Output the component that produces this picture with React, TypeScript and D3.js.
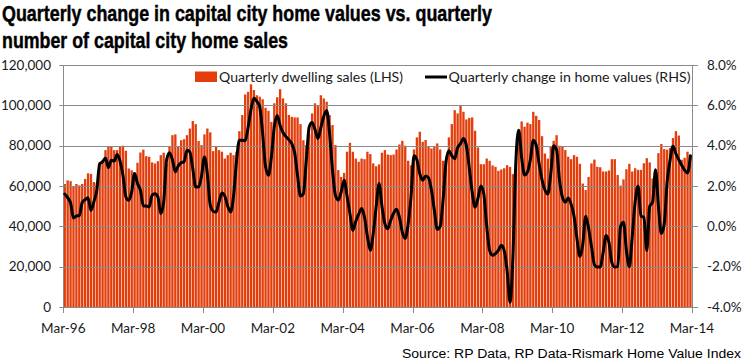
import React from "react";
import * as d3 from "d3";

// ---------- DATA ----------
// Monthly periods, Mar-96 .. Feb-14 (216 months)
const months: Date[] = d3.timeMonth.range(new Date(1996, 2, 1), new Date(2014, 2, 1));

// Quarterly dwelling sales (thousands), LHS
const dwellingSales: number[] = [
  61, 62.8, 62.4, 60, 61, 60.3, 61, 63.5, 66.3, 66, 62, 61.5,
  71, 72.8, 77.8, 79.4, 79.8, 77.8, 77.8, 79.4, 80, 77.5, 68.7, 67.8,
  66.8, 71.5, 76.6, 78, 74.8, 74.5, 71.7, 71.2, 72.3, 75.3, 76.5, 71,
  79.4, 85.2, 85.6, 79.4, 82.7, 83.2, 85.2, 88.5, 92.2, 90.7, 82.3, 80.3,
  85.6, 88.5, 86.6, 77.3, 79.4, 77.8, 77, 73.6, 75.3, 76.5, 75.3, 77,
  87.2, 95.2, 105.4, 106.7, 110.4, 107.6, 105, 104.3, 103, 98.8, 97.3, 91.8,
  101, 104, 108, 103.4, 101, 95.2, 94.3, 94, 94, 90.7, 82.7, 80.3,
  85.7, 96, 101, 100, 105, 103.4, 101.8, 95.2, 90.2, 80.3, 67.9, 64.5,
  66.5, 77, 81.4, 77, 73.6, 72, 73.6, 73.3, 77, 75.8, 71.2, 69.8,
  70.7, 76.5, 77.8, 75.6, 75.3, 75.6, 78.1, 80.6, 82.4, 80, 72.5, 70.3,
  78.1, 84.1, 86.9, 81.9, 82.8, 79.8, 78.6, 79.4, 81.1, 78.1, 72.5, 73.1,
  84.1, 90.7, 97.6, 96, 100.1, 96.8, 93, 93.8, 94, 87.4, 79.1, 70.8,
  70.8, 73.6, 72.5, 70.2, 69.5, 67.5, 68.2, 68.8, 70.3, 69.5, 65.9, 68.7,
  86.9, 92, 89.4, 91.4, 90.7, 96.8, 94.8, 92.7, 84.7, 76.1, 73.6, 79.4,
  82.4, 85.2, 80, 79.5, 77.8, 74.5, 73.3, 75.3, 74.5, 71, 61.2, 58,
  64.5, 71.2, 73.1, 69.5, 69.3, 67.2, 67.2, 67.7, 73.3, 73.3, 65.5, 60.2,
  63.3, 68.3, 71, 67.2, 68.8, 68, 68, 71.3, 73.8, 71.7, 63.8, 62.2,
  76.3, 80.8, 78.3, 78, 78.8, 83.8, 87.2, 85, 73, 74, 77, 75,
];

// Quarterly change in home values (%), RHS
const valueChange: number[] = [
  1.6, 1.42, 1.16, 0.41, 0.51, 0.53, 1.18, 1.32, 1.42, 0.79, 1.21, 1.79,
  3.11, 3.2, 3.39, 2.91, 3.28, 3.23, 3.56, 3.23, 2.53, 1.46, 1.29, 1.71,
  2.62, 2.12, 1.79, 1.01, 1.01, 0.96, 1.54, 1.62, 1.46, 0.63, 1.21, 3.3,
  3.65, 3.3, 2.7, 3.0, 3.15, 3.2, 3.77, 3.69, 2.85, 1.95, 1.95, 2.5,
  3.44, 2.6, 1.05, 0.75, 0.71, 1.2, 1.65, 1.5, 1.0, 0.71, 1.5, 3.2,
  4.27, 4.27, 4.25, 4.9, 5.8, 6.35, 6.2, 5.93, 4.6, 2.95, 2.53, 3.44,
  4.93, 5.5, 5.0, 4.65, 4.45, 4.3, 4.1, 3.65, 2.5, 1.5, 1.62, 3.28,
  4.93, 5.15, 4.8, 4.35, 4.9, 5.45, 5.75, 4.6, 2.8, 1.55, 1.3, 1.71,
  2.28, 1.5, 0.63, -0.2, 0.25, 0.6, 0.88, 0.45, -0.5, -1.19, -0.36, 0.96,
  2.12, 1.0, 0.13, -0.12, 0.3, 0.65, 0.85, 0.45, -0.3, -0.6, 0.13, 1.5,
  3.5, 3.3, 2.6, 2.28, 2.5, 2.4, 1.8, 0.8, -0.15, 0.0, 1.29, 3.2,
  3.75, 3.5, 3.35, 3.9, 4.1, 4.35, 4.0, 2.9, 1.7, 0.95, 1.4, 2.0,
  1.6, 0.0, -1.2, -1.44, -1.35, -1.19, -0.94, -1.2, -2.19, -3.76, -1.5, 3.2,
  4.77, 3.4, 2.55, 2.7, 3.3, 4.27, 4.02, 3.1, 2.3, 1.8, 1.6, 2.6,
  4.0, 3.8, 2.3, 1.45, 1.2, 1.4, 1.1, 0.5, -0.6, -1.5, -0.9, 0.5,
  -0.1, -1.0, -1.9, -2.02, -2.02, -1.3, -0.45, -0.8, -1.8, -2.02, -2.0, 0.0,
  0.2, -1.2, -2.0, -0.5, 1.2, 2.0, 0.5, 0.46, -1.2, 1.0, 1.2, 2.8,
  1.0, -0.36, 0.13, 2.2, 3.28, 3.97, 3.6, 3.3, 3.03, 2.78, 2.65, 3.5,
];

const xTickLabels = ["Mar-96", "Mar-98", "Mar-00", "Mar-02", "Mar-04", "Mar-06", "Mar-08", "Mar-10", "Mar-12", "Mar-14"];
const leftTicks = [0, 20, 40, 60, 80, 100, 120];
const rightTicks = [-4, -2, 0, 2, 4, 6, 8];

const titleLines = [
  "Quarterly change in capital city home values vs. quarterly",
  "number of capital city home sales",
];
const legendBar = "Quarterly dwelling sales (LHS)";
const legendLine = "Quarterly change in home values (RHS)";
const sourceText = "Source: RP Data, RP Data-Rismark Home Value Index";

// ---------- LAYOUT ----------
const W = 744;
const H = 360;
const plotL = 63.3;
const plotR = 691.9;
const plotT = 65;
const plotB = 307;
const BAR = "#E23D0B";
const GRID = "#8A8A8A";
const FONT = "Lato, 'Open Sans', sans-serif";

export default function App() {
  const n = months.length;
  const x = d3.scaleLinear().domain([0, n]).range([plotL, plotR]);
  const band = x(1) - x(0);
  const yL = d3.scaleLinear().domain([0, 120]).range([plotB, plotT]);
  const yR = d3.scaleLinear().domain([-4, 8]).range([plotB, plotT]);

  const line = d3
    .line<number>()
    .x((_, i) => x(i) + band / 2)
    .y((d) => yR(d))
    .curve(d3.curveMonotoneX);

  const fmtL = d3.format(",");
  const fmtR = (v: number) => v.toFixed(1) + "%";
  const snap = (v: number) => Math.round(v) + 0.5;
  const barW = band * 0.8;

  return (
    <svg
      width={W}
      height={H}
      viewBox={`0 0 ${W} ${H}`}
      style={{ position: "fixed", left: 0, top: 0, background: "#fff" }}
    >
      <rect x={0} y={0} width={W} height={H} fill="#fff" />

      {/* Title */}
      {titleLines.map((t, i) => (
        <text
          key={t}
          x={2}
          y={i === 0 ? 21 : 47.5}
          fontFamily="'Liberation Sans', Arial, sans-serif"
          fontWeight="bold"
          fontSize={22.5}
          textLength={i === 0 ? 490 : 286}
          lengthAdjust="spacingAndGlyphs"
          fill="#000"
          stroke="#000"
          strokeWidth={0.45}
        >
          {t}
        </text>
      ))}

      {/* Bars */}
      {dwellingSales.map((v, i) => (
        <rect
          key={i}
          x={x(i) + (band - barW) / 2}
          y={yL(v)}
          width={barW}
          height={yL(0) - yL(v)}
          fill={BAR}
        />
      ))}

      {/* Gridlines (with outward ticks on both sides) */}
      {leftTicks.map((t) => (
        <line
          key={"g" + t}
          x1={plotL - 4}
          x2={plotR + 6}
          y1={snap(yL(t))}
          y2={snap(yL(t))}
          stroke={GRID}
          strokeWidth={1}
        />
      ))}

      {/* Vertical axes */}
      <line x1={snap(plotL)} x2={snap(plotL)} y1={plotT} y2={plotB + 1} stroke={GRID} strokeWidth={1} />
      <line x1={snap(plotR)} x2={snap(plotR)} y1={plotT} y2={plotB + 1} stroke={GRID} strokeWidth={1} />

      {/* X ticks */}
      {xTickLabels.map((lab, k) => {
        const xi = snap(x(k * 24));
        return (
          <g key={lab}>
            <line x1={xi} x2={xi} y1={plotB} y2={plotB + 6} stroke={GRID} strokeWidth={1} />
            <text
              x={x(k * 24)}
              y={333}
              textAnchor="middle"
              fontFamily={FONT}
              fontSize={13.5}
              fill="#1a1a1a"
            >
              {lab}
            </text>
          </g>
        );
      })}

      {/* Left axis labels */}
      {leftTicks.map((t) => (
        <text
          key={"l" + t}
          x={51}
          y={yL(t) + 4.8}
          textAnchor="end"
          fontFamily={FONT}
          fontSize={13.5}
          fill="#1a1a1a"
        >
          {fmtL(t * 1000)}
        </text>
      ))}

      {/* Right axis labels */}
      {rightTicks.map((t) => (
        <text
          key={"r" + t}
          x={707}
          y={yR(t) + 4.8}
          textAnchor="start"
          fontFamily={FONT}
          fontSize={13.5}
          fill="#1a1a1a"
        >
          {fmtR(t)}
        </text>
      ))}

      {/* Line */}
      <path
        d={line(valueChange) || ""}
        fill="none"
        stroke="#000"
        strokeWidth={3}
        strokeLinejoin="round"
        strokeLinecap="round"
      />

      {/* Legend */}
      <rect x={195} y={71.5} width={22} height={10.5} fill={BAR} />
      <text
        x={219}
        y={81.5}
        fontFamily={FONT}
        fontSize={13.5}
        fill="#1a1a1a"
        textLength={184}
        lengthAdjust="spacingAndGlyphs"
      >
        {legendBar}
      </text>
      <line x1={425} x2={447} y1={77} y2={77} stroke="#000" strokeWidth={3} />
      <text
        x={448.5}
        y={81.5}
        fontFamily={FONT}
        fontSize={13.5}
        fill="#1a1a1a"
        textLength={242}
        lengthAdjust="spacingAndGlyphs"
      >
        {legendLine}
      </text>

      {/* Source */}
      <text
        x={741}
        y={357.5}
        textAnchor="end"
        fontFamily="'Liberation Sans', Arial, sans-serif"
        fontSize={12.5}
        fill="#000"
        textLength={339}
        lengthAdjust="spacingAndGlyphs"
      >
        {sourceText}
      </text>
    </svg>
  );
}
